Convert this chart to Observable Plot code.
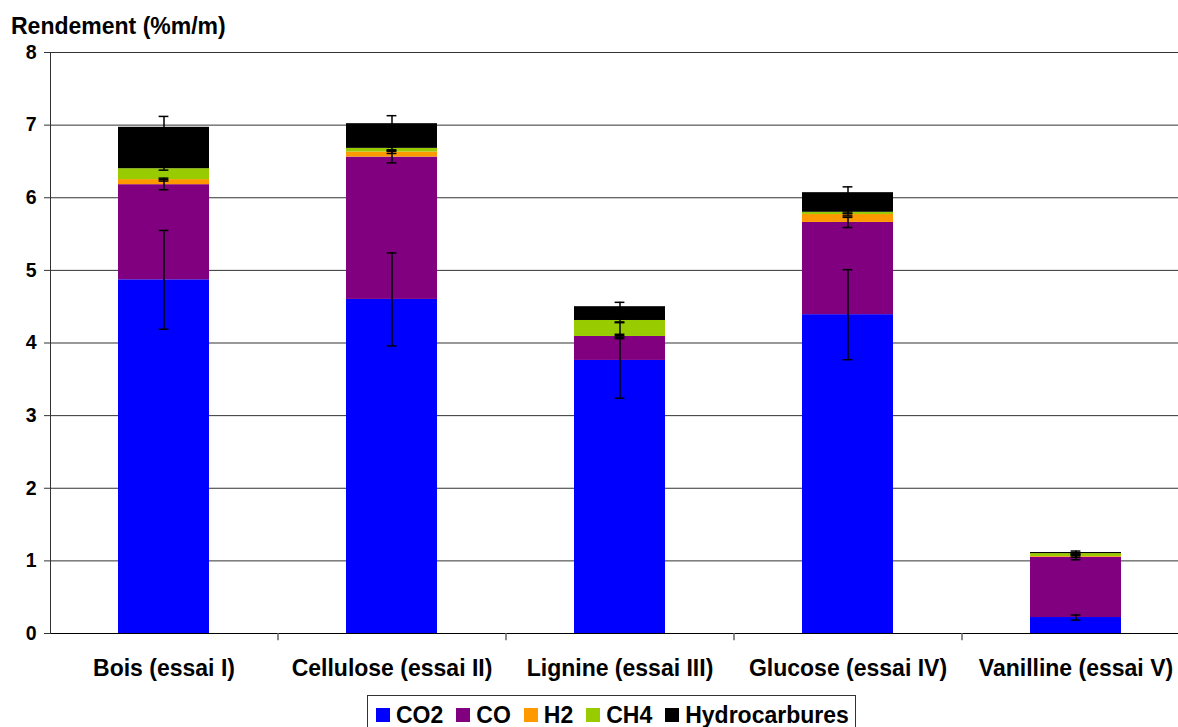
<!DOCTYPE html>
<html>
<head>
<meta charset="utf-8">
<script src="https://cdn.jsdelivr.net/npm/d3@7"></script>
<script src="https://cdn.jsdelivr.net/npm/@observablehq/plot@0.6"></script>
<style>
  body { margin: 0; background: #fff; font-family: Arial, "Liberation Sans", sans-serif; }
  #title { height: 29px; padding: 15px 0 0 11px; font-size: 23px; font-weight: bold; line-height: 22px; color: #000; }
  #legend { display: inline-flex; align-items: center; margin: 5px 0 0 367px; border: 1px solid #333; padding: 5px 6px 3px 8px; font-weight: bold; font-size: 23px; line-height: 28px; color: #000; }
  #legend .item { display: inline-flex; align-items: center; margin-right: 13px; }
  #legend .item:last-child { margin-right: 0; }
  #legend .sw { width: 14px; height: 14px; margin-right: 6px; display: inline-block; }
</style>
</head>
<body>
<div id="title">Rendement (%m/m)</div>
<div id="chart"></div>
<div id="legend"></div>
<script>
const categories = ["Bois (essai I)", "Cellulose (essai II)", "Lignine (essai III)", "Glucose (essai IV)", "Vanilline (essai V)"];
const series = ["CO2", "CO", "H2", "CH4", "Hydrocarbures"];
const colors = ["#0000ff", "#800080", "#ff9900", "#99cc00", "#000000"];
const yTicks = [0, 1, 2, 3, 4, 5, 6, 7, 8];

const co2 = [4.87, 4.60, 3.76, 4.39, 0.22];
const co = [1.31, 1.96, 0.33, 1.27, 0.83];
const h2 = [0.07, 0.07, 0.00, 0.11, 0.01];
const ch4 = [0.15, 0.05, 0.22, 0.03, 0.04];
const hc = [0.57, 0.34, 0.19, 0.27, 0.015];

const errCo2 = [0.68, 0.64, 0.52, 0.62, 0.035];
const errCo = [0.07, 0.08, 0.03, 0.07, 0.035];
const errH2 = [0.02, 0.02, 0.01, 0.02, 0.01];
const errCh4 = [0.02, 0.02, 0.02, 0.02, 0.01];
const errHc = [0.15, 0.11, 0.06, 0.08, 0.02];

const values = [co2, co, h2, ch4, hc];
const errors = [errCo2, errCo, errH2, errCh4, errHc];

const table = [];
const errs = [];
categories.forEach((cat, i) => {
  let cum = 0;
  series.forEach((s, j) => {
    const v = values[j][i];
    cum += v;
    table.push({cat, serie: s, value: v});
    errs.push({cat, serie: s, top: cum, err: errors[j][i]});
  });
});

const W = 1178, x0 = 50, x1 = 1190;
const step = (x1 - x0) / categories.length;
const capInset = (step * 0.4 - 10) / 2;

const chart = Plot.plot({
  width: W,
  height: 646,
  marginTop: 8,
  marginBottom: 57,
  marginLeft: x0,
  marginRight: 0,
  style: {fontFamily: "Arial, 'Liberation Sans', sans-serif", fontWeight: "bold", color: "#000", background: "#fff", overflow: "visible"},
  x: {type: "band", domain: categories, range: [x0, x1], paddingInner: 0.6, paddingOuter: 0.3, label: null},
  y: {domain: [0, 8], ticks: yTicks, label: null},
  color: {domain: series, range: colors},
  marks: [
    Plot.gridY(yTicks, {stroke: "#333", strokeOpacity: 1, strokeWidth: 1}),
    Plot.barY(table, {x: "cat", y: "value", fill: "serie"}),
    Plot.ruleX(errs, {x: "cat", y1: d => d.top - d.err, y2: d => d.top + d.err, stroke: "#000", strokeWidth: 1.5}),
    Plot.tickY(errs, {x: "cat", y: d => d.top - d.err, insetLeft: capInset, insetRight: capInset, stroke: "#000", strokeWidth: 1.5}),
    Plot.tickY(errs, {x: "cat", y: d => d.top + d.err, insetLeft: capInset, insetRight: capInset, stroke: "#000", strokeWidth: 1.5}),
    Plot.ruleY([0], {stroke: "#000", strokeWidth: 1}),
    Plot.frame({anchor: "left", stroke: "#333"}),
    Plot.ruleX(categories.slice(1), {x: d => d, dx: -step / 2, y1: 0, y2: -0.1, stroke: "#666", strokeWidth: 1.5}),
    Plot.axisY({ticks: yTicks, tickSize: 6, tickPadding: 8, fontSize: 19.5, tickFormat: d => String(d), label: null, stroke: "#333"}),
    Plot.axisX({tickSize: 0, tickPadding: 26, fontSize: 23, label: null})
  ]
});
document.getElementById("chart").appendChild(chart);

const legend = document.getElementById("legend");
series.forEach((s, j) => {
  const item = document.createElement("span");
  item.className = "item";
  const sw = document.createElement("span");
  sw.className = "sw";
  sw.style.background = colors[j];
  item.appendChild(sw);
  item.appendChild(document.createTextNode(s));
  legend.appendChild(item);
});
</script>
</body>
</html>
